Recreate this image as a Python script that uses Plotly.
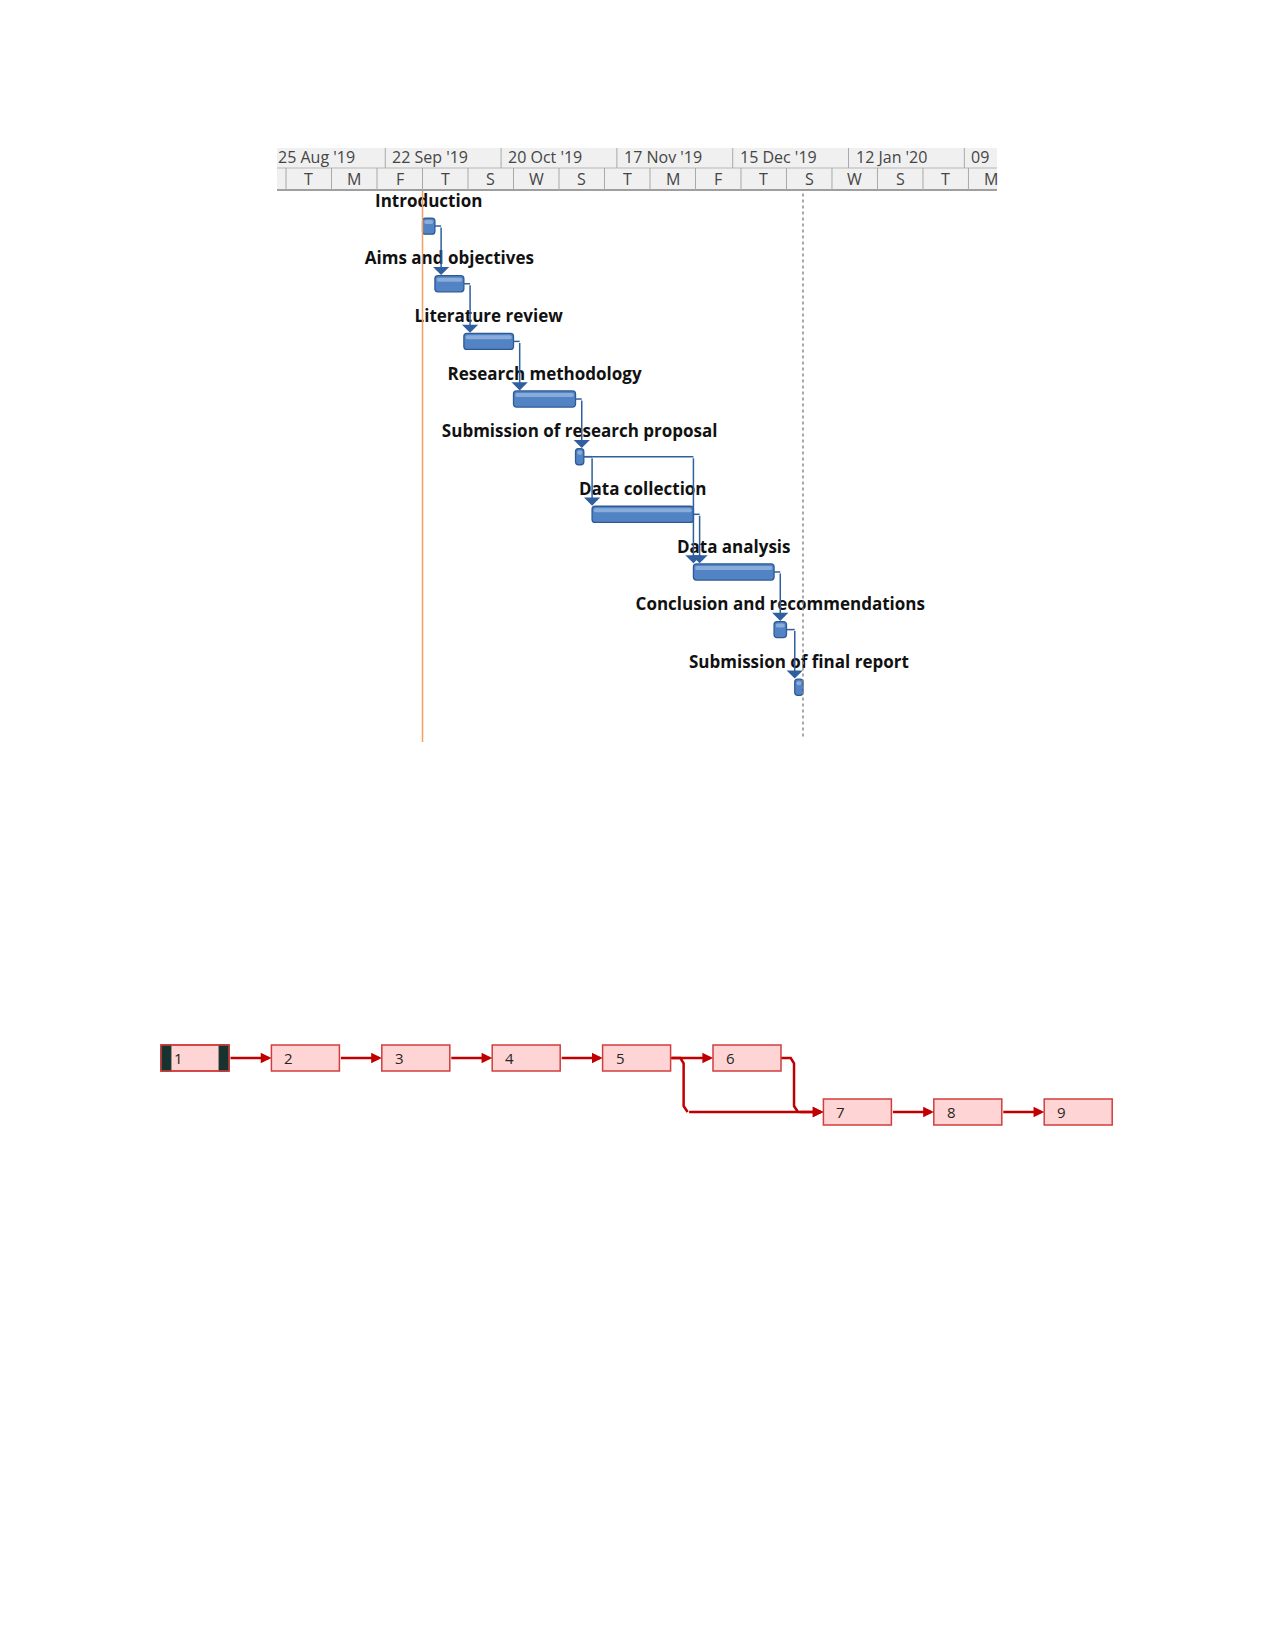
import pandas as pd
import plotly.graph_objects as go

# ---------------- Gantt data ----------------
tasks = ["Introduction", "Aims and objectives", "Literature review",
         "Research methodology", "Submission of research proposal",
         "Data collection", "Data analysis",
         "Conclusion and recommendations", "Submission of final report"]
task_start = ["2019-10-01", "2019-10-04", "2019-10-11", "2019-10-23", "2019-11-07",
              "2019-11-11", "2019-12-05 12:00", "2019-12-25", "2019-12-30"]
task_end = ["2019-10-04", "2019-10-11", "2019-10-23", "2019-11-07", "2019-11-09",
            "2019-12-05 12:00", "2019-12-25", "2019-12-28", "2020-01-01"]
task_links = [(0, 1), (1, 2), (2, 3), (3, 4), (4, 5), (4, 6), (5, 6), (6, 7), (7, 8)]
project_start_date = "2019-10-01"
status_date = "2020-01-01"

# timescale (two tiers)
top_tier_dates = ["2019-08-25", "2019-09-22", "2019-10-20", "2019-11-17",
                  "2019-12-15", "2020-01-12", "2020-02-09"]
top_tier_labels = ["25 Aug '19", "22 Sep '19", "20 Oct '19", "17 Nov '19",
                   "15 Dec '19", "12 Jan '20", "09"]
bottom_tier_dates = ["2019-08-29", "2019-09-09", "2019-09-20", "2019-10-01",
                     "2019-10-12", "2019-10-23", "2019-11-03", "2019-11-14",
                     "2019-11-25", "2019-12-06", "2019-12-17", "2019-12-28",
                     "2020-01-08", "2020-01-19", "2020-01-30", "2020-02-10"]
bottom_tier_labels = ["T", "M", "F", "T", "S", "W", "S", "T",
                      "M", "F", "T", "S", "W", "S", "T", "M"]

# ---------------- Network diagram data ----------------
node_labels = ["1", "2", "3", "4", "5", "6", "7", "8", "9"]
node_col = [0, 1, 2, 3, 4, 5, 6, 7, 8]
node_row = [0, 0, 0, 0, 0, 0, 1, 1, 1]
node_links = [("1", "2"), ("2", "3"), ("3", "4"), ("4", "5"), ("5", "6"),
              ("5", "7"), ("6", "7"), ("7", "8"), ("8", "9")]
selected_node = "1"

# ---------------- styling helpers ----------------
W, H = 1275, 1650
def py(p):
    return 1 - p / H

X_RANGE = ["2019-08-26 19:40", "2020-02-16 21:35"]
x_lo, x_hi = pd.Timestamp(X_RANGE[0]), pd.Timestamp(X_RANGE[1])
DAY = pd.Timedelta(days=1)
BLUE_FILL = "#5283c4"
BLUE_HI = "#8aacdb"
BLUE_EDGE = "#2d5a94"
BLUE_LINE = "#2f5f9f"
HDR_TEXT = "#454545"
HDR_LINE = "#a9a9a9"
HDR_FONT = dict(family="Open Sans", size=16, color=HDR_TEXT)
RED = "#c00000"

st = [pd.Timestamp(s) for s in task_start]
en = [pd.Timestamp(e) for e in task_end]
rows = list(range(len(tasks)))
ts = lambda t: t.strftime("%Y-%m-%d %H:%M:%S")

fig = go.Figure()

# bars
BAR_H = 0.28
fig.add_trace(go.Bar(
    y=rows, base=[ts(s) for s in st],
    x=[(e - s).total_seconds() * 1000 for s, e in zip(st, en)],
    orientation="h", width=BAR_H,
    marker=dict(color=BLUE_FILL, line=dict(color=BLUE_EDGE, width=1.3)),
    xaxis="x", yaxis="y", hoverinfo="skip"))
# glossy highlight on the upper part of each bar
inset = 0.4 * DAY
fig.add_trace(go.Bar(
    y=rows, base=[ts(s + inset) for s in st],
    x=[max((e - s - 2 * inset).total_seconds(), 0) * 1000 for s, e in zip(st, en)],
    orientation="h", width=0.07, offset=-0.105,
    marker=dict(color=BLUE_HI, line=dict(width=0)),
    xaxis="x", yaxis="y", hoverinfo="skip"))

# connectors
seg_x, seg_y = [], []
for a, b in task_links:
    xl = max(en[a] + 1.5 * DAY, st[b])
    seg_x += [ts(en[a]), ts(xl), None]
    seg_y += [a, a, None]
    fig.add_annotation(x=ts(xl), y=b - BAR_H / 2 - 0.01, ax=ts(xl), ay=a,
                       xref="x", yref="y", axref="x", ayref="y",
                       showarrow=True, arrowhead=1, arrowsize=1.8, arrowwidth=1.5,
                       arrowcolor=BLUE_LINE, text="", standoff=0)
fig.add_trace(go.Scatter(x=seg_x, y=seg_y, mode="lines",
                         line=dict(color=BLUE_LINE, width=1.5),
                         xaxis="x", yaxis="y", hoverinfo="skip"))

# task labels
mid = [ts(s + (e - s) / 2) for s, e in zip(st, en)]
fig.add_trace(go.Scatter(x=mid, y=[r - 0.41 for r in rows], mode="text", text=tasks,
                         textfont=dict(family="Open Sans", size=17, color="#111111", weight="bold"),
                         xaxis="x", yaxis="y", hoverinfo="skip", cliponaxis=False))

# vertical lines
fig.add_shape(type="line", xref="x", yref="y domain", x0=project_start_date, x1=project_start_date,
              y0=0, y1=1, line=dict(color="#f0a060", width=1.5))
fig.add_shape(type="line", xref="x", yref="y domain", x0=status_date, x1=status_date,
              y0=0.01, y1=1, line=dict(color="#8c8c8c", width=1.5, dash="dot"))

# timescale header
fig.add_shape(type="rect", xref="x domain", yref="paper", x0=0, x1=1, y0=py(190), y1=py(148),
              fillcolor="#f0f0f0", line=dict(width=0), layer="below")
fig.add_shape(type="line", xref="x domain", yref="paper", x0=0, x1=1, y0=py(168), y1=py(168),
              line=dict(color="#b8b8b8", width=1))
fig.add_shape(type="line", xref="x domain", yref="paper", x0=0, x1=1, y0=py(190), y1=py(190),
              line=dict(color="#9f9f9f", width=2))
for d, lab in zip(top_tier_dates, top_tier_labels):
    t = pd.Timestamp(d)
    if x_lo <= t <= x_hi:
        fig.add_shape(type="line", xref="x", yref="paper", x0=d, x1=d, y0=py(168), y1=py(148),
                      line=dict(color=HDR_LINE, width=1))
        fig.add_annotation(x=d, y=py(156.5), xref="x", yref="paper", text=lab, showarrow=False,
                           xanchor="left", yanchor="middle", xshift=5, font=HDR_FONT)
    else:
        fig.add_annotation(x=X_RANGE[0], y=py(156.5), xref="x", yref="paper", text=lab, showarrow=False,
                           xanchor="left", yanchor="middle", xshift=-1, font=HDR_FONT)
for d, lab in zip(bottom_tier_dates, bottom_tier_labels):
    t = pd.Timestamp(d)
    fig.add_shape(type="line", xref="x", yref="paper", x0=d, x1=d, y0=py(190), y1=py(168),
                  line=dict(color=HDR_LINE, width=1))
    fig.add_annotation(x=ts(t + 5.5 * DAY), y=py(179), xref="x", yref="paper", text=lab,
                       showarrow=False, xanchor="center", yanchor="middle", font=HDR_FONT)

# ---------------- Network diagram ----------------
HW, HH = 0.308, 0.24
pos = {lab: (c, r) for lab, c, r in zip(node_labels, node_col, node_row)}
for lab in node_labels:
    c, r = pos[lab]
    fig.add_shape(type="rect", xref="x2", yref="y2", x0=c - HW, x1=c + HW, y0=r - HH, y1=r + HH,
                  fillcolor="#ffd4d4", line=dict(color="#d23c3c", width=1.5), layer="above")
    if lab == selected_node:
        bw = 0.09
        for x0, x1 in [(c - HW, c - HW + bw), (c + HW - bw, c + HW)]:
            fig.add_shape(type="rect", xref="x2", yref="y2", x0=x0, x1=x1, y0=r - HH, y1=r + HH,
                          fillcolor="#17332f", line=dict(color="#17332f", width=1), layer="above")
        fig.add_shape(type="rect", xref="x2", yref="y2", x0=c - HW, x1=c + HW, y0=r - HH, y1=r + HH,
                      fillcolor="rgba(0,0,0,0)", line=dict(color="#d23c3c", width=1.5), layer="above")
    fig.add_annotation(x=c - HW + 0.1, y=r, xref="x2", yref="y2", text=lab, showarrow=False,
                       xanchor="left", yanchor="middle",
                       font=dict(family="Open Sans", size=15, color="#262626"))

path_x, path_y = [], []
for a, b in node_links:
    ca, ra = pos[a]
    cb, rb = pos[b]
    x_tail = ca + HW
    if ra == rb:
        tail = (x_tail, ra)
    else:
        ex = x_tail + 0.118
        path_x += [x_tail, ex - 0.03, ex, ex, ex + 0.036, None]
        path_y += [ra, ra, ra + 0.1, rb - 0.11, rb, None]
        tail = (ex + 0.036, rb)
    fig.add_annotation(x=cb - HW, y=rb, ax=tail[0], ay=tail[1],
                       xref="x2", yref="y2", axref="x2", ayref="y2",
                       showarrow=True, arrowhead=2, arrowsize=0.85, arrowwidth=2.5,
                       arrowcolor=RED, text="", standoff=0)
fig.add_trace(go.Scatter(x=path_x, y=path_y, mode="lines", line=dict(color=RED, width=2.5),
                         xaxis="x2", yaxis="y2", hoverinfo="skip"))

fig.update_layout(
    width=W, height=H, margin=dict(l=0, r=0, t=0, b=0),
    paper_bgcolor="white", plot_bgcolor="white", showlegend=False,
    barmode="overlay", barcornerradius=3,
    xaxis=dict(type="date", range=X_RANGE, domain=[277 / W, 997 / W], visible=False, anchor="y"),
    yaxis=dict(range=[8.95, -0.635], domain=[py(742), py(189.5)], visible=False, anchor="x"),
    xaxis2=dict(range=[-0.5, 8.5], domain=[139.8 / W, 1133.4 / W], visible=False, anchor="y2"),
    yaxis2=dict(range=[1.5, -0.5], domain=[py(1139), py(1031)], visible=False, anchor="x2"),
)

fig.write_html("out.html", config={"displayModeBar": False},
               post_script="document.body.style.margin='0';")
